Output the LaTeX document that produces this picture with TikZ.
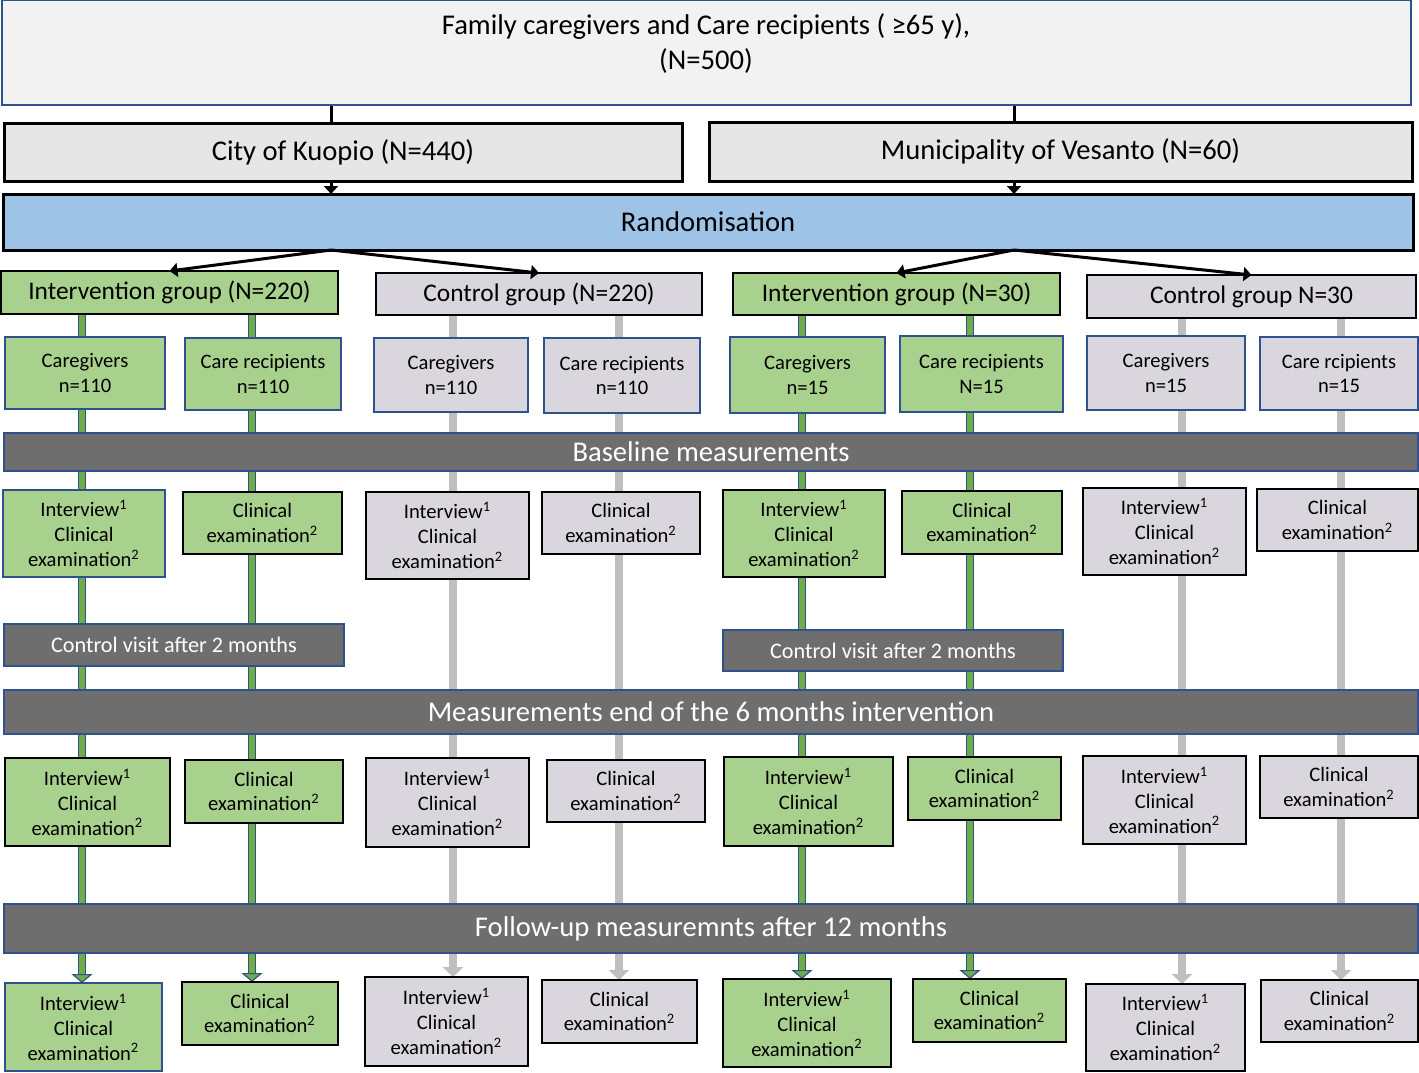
\documentclass[tikz,border=0pt]{standalone}
\usepackage{fontspec}
\setmainfont{Carlito}
\usetikzlibrary{arrows.meta,backgrounds}
\definecolor{gfill}{RGB}{169,209,142}
\definecolor{gryfill}{RGB}{217,215,221}
\definecolor{darkbar}{RGB}{110,110,110}
\definecolor{bblue}{RGB}{47,82,143}
\definecolor{lgreen}{RGB}{112,173,71}
\definecolor{lgrey}{RGB}{191,191,191}
\definecolor{topfill}{RGB}{242,242,242}
\definecolor{cityfill}{RGB}{231,230,230}
\definecolor{randfill}{RGB}{157,195,230}
\newcommand\bx[7]{\node[#2, minimum width={(#5-#3)*0.5pt}, minimum height={(#6-#4)*0.5pt}] (#1) at ({(#3+#5)/2},{(#4+#6)/2}) {#7};}
\newcommand\supone{\textsuperscript{1}}
\newcommand\suptwo{\textsuperscript{2}}
\newcommand\ice{Interview\supone\\Clinical\\examination\suptwo}
\newcommand\ce{Clinical\\examination\suptwo}
\tikzset{
  base/.style={rectangle, inner sep=0pt, outer sep=0pt, align=center},
  bigf/.style={font=\fontsize{14.3}{17.5}\selectfont},
  grpf/.style={font=\fontsize{12.7}{15}\selectfont},
  smf/.style={font=\fontsize{10.3}{12.4}\selectfont},
  cvf/.style={font=\fontsize{11.1}{13}\selectfont},
  topbox/.style={base, fill=topfill, draw=bblue, line width=1.2pt},
  citybox/.style={base, bigf, fill=cityfill, draw=black, line width=1.5pt},
  randbox/.style={base, bigf, fill=randfill, draw=black, line width=1.5pt},
  gbk/.style={base, fill=gfill, draw=black, line width=1.2pt},
  gbl/.style={base, fill=gfill, draw=bblue, line width=1pt},
  ybk/.style={base, fill=gryfill, draw=black, line width=1.2pt},
  ybl/.style={base, fill=gryfill, draw=bblue, line width=1pt},
  bar/.style={base, bigf, fill=darkbar, draw=bblue, line width=1pt, text=white},
  cvbar/.style={base, cvf, fill=darkbar, draw=bblue, line width=1pt, text=white},
  blk/.style={draw=black, line width=1.5pt},
  blkarr/.style={blk, -{Triangle[width=7pt,length=4pt]}},
  gout/.style={draw=bblue, line width=4.2pt, -{Triangle[width=10.5pt,length=4.5pt,line width=0.6pt,fill=lgreen]}},
  gin/.style={draw=lgreen, line width=2.8pt, shorten >=4.5pt},
  yline/.style={draw=lgrey, line width=4pt, -{Triangle[width=10pt,length=5pt]}}
}
\begin{document}
\begin{tikzpicture}[x=0.5pt,y=-0.5pt]
\useasboundingbox (0,0) rectangle (1419,1072);
% top
\bx{top}{topbox}{2}{0}{1411}{105}{}
\node[base, bigf] (toptitle) at (706,44) {Family caregivers and Care recipients ( ≥65 y),\\(N=500)};
\bx{kuopio}{citybox}{4}{123}{682}{181}{City of Kuopio (N=440)}
\bx{vesanto}{citybox}{709}{122}{1412}{181}{Municipality of Vesanto (N=60)}
\bx{rand}{randbox}{3}{194}{1413}{250}{Randomisation}
\coordinate (xk) at (331,0);
\coordinate (xv) at (1014,0);
% groups
\bx{ig1}{gbk,grpf}{1}{271}{338}{314}{Intervention group (N=220)}
\bx{cg1}{ybk,grpf}{376}{273}{702}{315}{Control group (N=220)}
\bx{ig2}{gbk,grpf}{733}{273}{1060}{315}{Intervention group (N=30)}
\bx{cg2}{ybk,grpf}{1087}{275}{1416}{318}{Control group N=30}
% subgroups
\bx{s1}{gbl,smf}{5}{337}{165}{409}{Caregivers\\n=110}
\bx{s2}{gbl,smf}{185}{338}{341}{410}{Care recipients\\n=110}
\bx{s3}{ybl,smf}{374}{338}{528}{412}{Caregivers\\n=110}
\bx{s4}{ybl,smf}{544}{338}{700}{413}{Care recipients\\n=110}
\bx{s5}{gbl,smf}{730}{337}{885}{413}{Caregivers\\n=15}
\bx{s6}{gbl,smf}{900}{336}{1063}{412}{Care recipients\\N=15}
\bx{s7}{ybl,smf}{1087}{336}{1245}{410}{Caregivers\\n=15}
\bx{s8}{ybl,smf}{1260}{337}{1418}{410}{Care rcipients\\n=15}
% baseline
\bx{basebar}{bar}{4}{433}{1418}{471}{Baseline measurements}
\bx{b1}{gbl,smf}{3}{490}{165}{577}{\ice}
\bx{b2}{gbk,smf}{183}{492}{342}{554}{\ce}
\bx{b3}{ybk,smf}{366}{492}{529}{579}{\ice}
\bx{b4}{ybk,smf}{542}{492}{700}{554}{\ce}
\bx{b5}{gbk,smf}{723}{490}{885}{577}{\ice}
\bx{b6}{gbk,smf}{902}{491}{1062}{554}{\ce}
\bx{b7}{ybk,smf}{1083}{488}{1246}{575}{\ice}
\bx{b8}{ybk,smf}{1257}{489}{1418}{551}{\ce}
% control visits
\bx{cv1}{cvbar}{4}{624}{344}{666}{Control visit after 2 months}
\bx{cv2}{cvbar}{723}{630}{1063}{671}{Control visit after 2 months}
% 6 months
\bx{sixbar}{bar}{4}{690}{1418}{734}{Measurements end of the 6 months intervention}
\bx{m1}{gbk,smf}{5}{758}{170}{846}{\ice}
\bx{m2}{gbk,smf}{185}{760}{343}{823}{\ce}
\bx{m3}{ybk,smf}{366}{758}{529}{847}{\ice}
\bx{m4}{ybk,smf}{547}{760}{705}{822}{\ce}
\bx{m5}{gbk,smf}{724}{757}{893}{846}{\ice}
\bx{m6}{gbk,smf}{908}{757}{1061}{820}{\ce}
\bx{m7}{ybk,smf}{1083}{756}{1246}{844}{\ice}
\bx{m8}{ybk,smf}{1260}{756}{1418}{818}{\ce}
% follow-up
\bx{fubar}{bar}{4}{904}{1418}{953}{Follow-up measuremnts after 12 months}
\bx{f1}{gbl,smf}{5}{983}{162}{1071}{\ice}
\bx{f2}{gbk,smf}{182}{982}{338}{1045}{\ce}
\bx{f3}{ybk,smf}{365}{977}{528}{1066}{\ice}
\bx{f4}{ybk,smf}{542}{980}{697}{1043}{\ce}
\bx{f5}{gbk,smf}{723}{979}{891}{1067}{\ice}
\bx{f6}{gbk,smf}{913}{979}{1066}{1042}{\ce}
\bx{f7}{ybk,smf}{1086}{984}{1245}{1071}{\ice}
\bx{f8}{ybk,smf}{1261}{980}{1418}{1042}{\ce}
% column coordinates
\coordinate (l1) at (82,0);
\coordinate (l2) at (252,0);
\coordinate (l3) at (453,0);
\coordinate (l4) at (619,0);
\coordinate (l5) at (802,0);
\coordinate (l6) at (970,0);
\coordinate (l7) at (1182,0);
\coordinate (l8) at (1341,0);
\begin{pgfonlayer}{background}
\draw[blk] (top.south -| xk) -- (kuopio.north -| xk);
\draw[blk] (top.south -| xv) -- (vesanto.north -| xv);
\draw[gout] (ig1.south -| l1) -- (f1.north -| l1);
\draw[gin] (ig1.south -| l1) -- (f1.north -| l1);
\draw[gout] (ig1.south -| l2) -- (f2.north -| l2);
\draw[gin] (ig1.south -| l2) -- (f2.north -| l2);
\draw[gout] (ig2.south -| l5) -- (f5.north -| l5);
\draw[gin] (ig2.south -| l5) -- (f5.north -| l5);
\draw[gout] (ig2.south -| l6) -- (f6.north -| l6);
\draw[gin] (ig2.south -| l6) -- (f6.north -| l6);
\draw[yline] (cg1.south -| l3) -- (f3.north -| l3);
\draw[yline] (cg1.south -| l4) -- (f4.north -| l4);
\draw[yline] (cg2.south -| l7) -- (f7.north -| l7);
\draw[yline] (cg2.south -| l8) -- (f8.north -| l8);
\end{pgfonlayer}
\draw[blkarr] (kuopio.south -| xk) -- (rand.north -| xk);
\draw[blkarr] (vesanto.south -| xv) -- (rand.north -| xv);
\draw[blkarr] (rand.south -| xk) -- (ig1.north);
\draw[blkarr] (rand.south -| xk) -- (cg1.north);
\draw[blkarr] (rand.south -| xv) -- (ig2.north);
\draw[blkarr] (rand.south -| xv) -- (cg2.north);
\end{tikzpicture}
\end{document}
